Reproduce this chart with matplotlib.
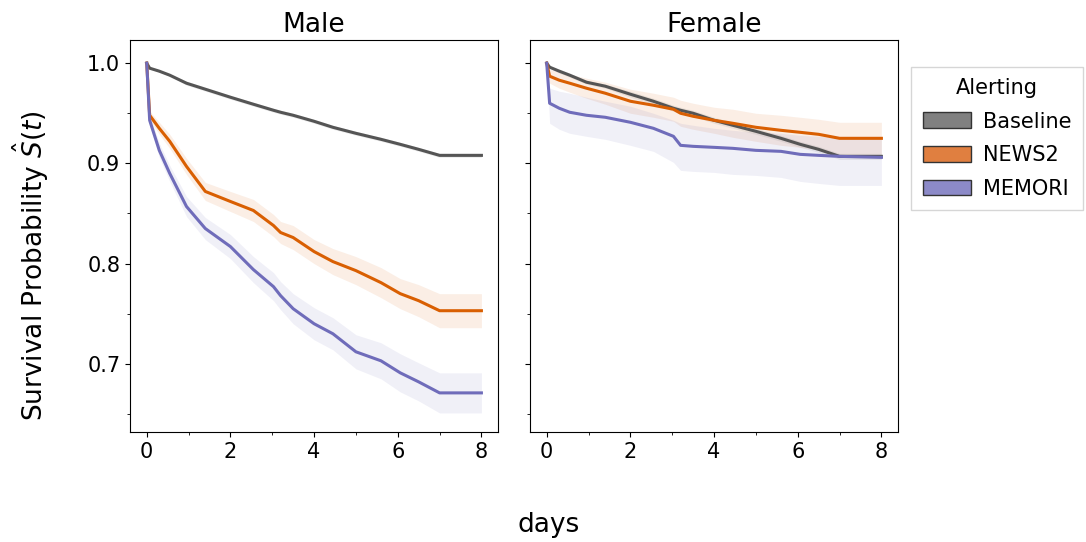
import matplotlib.pyplot as plt
from matplotlib.patches import Patch

days = [0, 0.07, 0.3, 0.55, 0.95, 1.4, 2.0, 2.55, 3.03, 3.2, 3.5, 4.0, 4.45, 5.0, 5.6, 6.06, 6.5, 7.0, 8.0]

# Male
male_baseline = [1.0, 0.995, 0.992, 0.988, 0.980, 0.974, 0.966, 0.959, 0.953, 0.951, 0.948, 0.942, 0.936, 0.930, 0.924, 0.919, 0.914, 0.908, 0.908]
male_baseline_ci = [0, 0.001, 0.001, 0.001, 0.002, 0.002, 0.002, 0.002, 0.002, 0.002, 0.002, 0.002, 0.002, 0.002, 0.002, 0.002, 0.002, 0.002, 0.002]
male_news2 = [1.0, 0.948, 0.935, 0.922, 0.897, 0.872, 0.862, 0.853, 0.838, 0.831, 0.826, 0.812, 0.802, 0.793, 0.781, 0.770, 0.763, 0.753, 0.753]
male_news2_ci = [0, 0.004, 0.006, 0.007, 0.008, 0.009, 0.010, 0.011, 0.011, 0.011, 0.012, 0.012, 0.013, 0.014, 0.015, 0.015, 0.016, 0.017, 0.017]
male_memori = [1.0, 0.943, 0.913, 0.890, 0.857, 0.835, 0.817, 0.794, 0.777, 0.768, 0.755, 0.740, 0.730, 0.712, 0.703, 0.691, 0.682, 0.671, 0.671]
male_memori_ci = [0, 0.005, 0.007, 0.008, 0.010, 0.011, 0.012, 0.013, 0.014, 0.014, 0.015, 0.016, 0.016, 0.017, 0.018, 0.019, 0.019, 0.020, 0.020]

# Female
female_baseline = [1.0, 0.996, 0.992, 0.988, 0.981, 0.977, 0.969, 0.962, 0.955, 0.953, 0.950, 0.943, 0.938, 0.932, 0.925, 0.919, 0.914, 0.907, 0.907]
female_baseline_ci = [0, 0.001, 0.002, 0.002, 0.002, 0.002, 0.003, 0.003, 0.003, 0.003, 0.003, 0.003, 0.003, 0.003, 0.003, 0.003, 0.003, 0.003, 0.003]
female_news2 = [1.0, 0.987, 0.983, 0.980, 0.975, 0.970, 0.962, 0.958, 0.954, 0.950, 0.947, 0.943, 0.940, 0.936, 0.933, 0.931, 0.929, 0.925, 0.925]
female_news2_ci = [0, 0.007, 0.008, 0.009, 0.010, 0.011, 0.012, 0.012, 0.012, 0.013, 0.013, 0.013, 0.014, 0.014, 0.015, 0.015, 0.015, 0.016, 0.016]
female_memori = [1.0, 0.960, 0.955, 0.951, 0.948, 0.946, 0.941, 0.935, 0.927, 0.918, 0.917, 0.916, 0.915, 0.913, 0.912, 0.909, 0.908, 0.907, 0.906]
female_memori_lo = [1.0, 0.940, 0.934, 0.930, 0.927, 0.924, 0.918, 0.912, 0.901, 0.893, 0.892, 0.891, 0.889, 0.888, 0.886, 0.882, 0.880, 0.878, 0.878]
female_memori_hi = [1.0, 0.975, 0.972, 0.970, 0.966, 0.962, 0.957, 0.950, 0.943, 0.940, 0.938, 0.935, 0.933, 0.931, 0.930, 0.928, 0.927, 0.926, 0.925]

groups = ["Baseline", "NEWS2", "MEMORI"]
colors = {"Baseline": "#555555", "NEWS2": "#d95f02", "MEMORI": "#6f6cba"}
patch_colors = {"Baseline": "#808080", "NEWS2": "#e07f40", "MEMORI": "#8c8ac8"}


def band(s, ci):
    return [v - c for v, c in zip(s, ci)], [v + c for v, c in zip(s, ci)]


panels = {
    "Male": {
        "Baseline": (male_baseline, *band(male_baseline, male_baseline_ci)),
        "NEWS2": (male_news2, *band(male_news2, male_news2_ci)),
        "MEMORI": (male_memori, *band(male_memori, male_memori_ci)),
    },
    "Female": {
        "Baseline": (female_baseline, *band(female_baseline, female_baseline_ci)),
        "NEWS2": (female_news2, *band(female_news2, female_news2_ci)),
        "MEMORI": (female_memori, female_memori_lo, female_memori_hi),
    },
}

fig = plt.figure(figsize=(10.86, 5.42), dpi=100)
ax1 = fig.add_axes([0.1197, 0.203, 0.339, 0.723])
ax2 = fig.add_axes([0.488, 0.203, 0.339, 0.723], sharey=ax1)

for ax, (title, series) in zip([ax1, ax2], panels.items()):
    for g in groups:
        s, lo, hi = series[g]
        ax.fill_between(days, lo, hi, color=colors[g], alpha=0.1, linewidth=0)
        ax.plot(days, s, color=colors[g], lw=2.2)
    ax.set_title(title, fontsize=19, pad=6)
    ax.set_xlim(-0.4, 8.4)
    ax.set_xticks([0, 2, 4, 6, 8])
    ax.set_xticks([1, 3, 5, 7], minor=True)
    ax.tick_params(labelsize=15)
    ax.tick_params(which="minor", length=2.5)

ax1.set_ylim(0.632, 1.023)
ax1.set_yticks([0.7, 0.8, 0.9, 1.0])
ax1.set_yticks([0.65, 0.75, 0.85, 0.95], minor=True)
ax2.tick_params(labelleft=False)
fig.text(0.028, 0.51, r"Survival Probability $\hat{S}(t)$", rotation=90,
         ha="center", va="center", fontsize=19)
fig.text(0.505, 0.031, "days", ha="center", va="center", fontsize=19)

handles = [Patch(facecolor=patch_colors[g], edgecolor="#333333", label=g) for g in groups]
fig.legend(handles=handles, title="Alerting", loc="upper left",
           bbox_to_anchor=(0.839, 0.877), fontsize=15, title_fontsize=15,
           handlelength=2.3, handleheight=0.8, fancybox=False,
           borderaxespad=0, borderpad=0.55, handletextpad=0.6, labelspacing=0.65)

fig.savefig("out.png", dpi=100)
